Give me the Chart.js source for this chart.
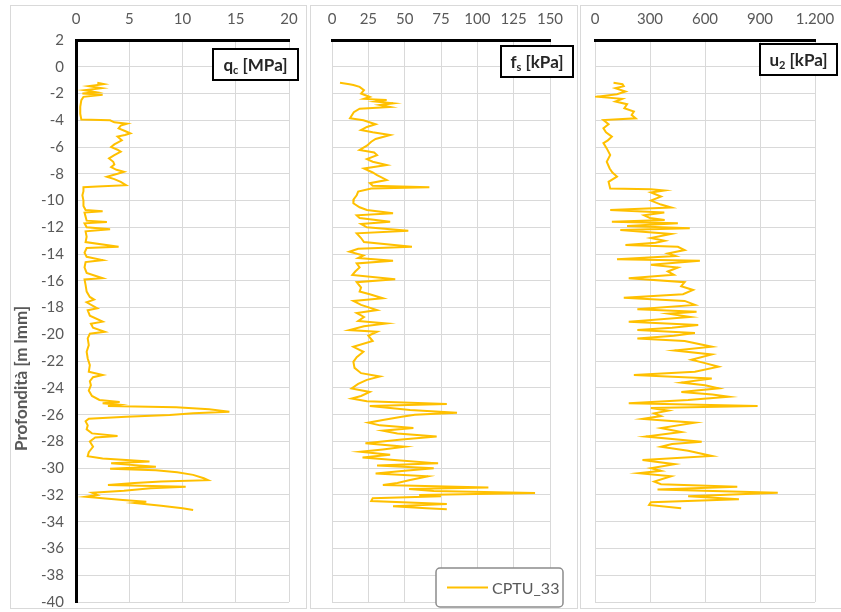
<!DOCTYPE html>
<html>
<head>
<meta charset="utf-8">
<title>CPTU_33</title>
<script src="https://cdn.jsdelivr.net/npm/chart.js@4.4.1/dist/chart.umd.min.js"></script>
<style>
  html, body { margin: 0; padding: 0; background: #ffffff; }
  body { width: 841px; height: 612px; position: relative; overflow: hidden; font-family: Lato, sans-serif; }
  .frame { position: absolute; top: 5px; height: 604px; border: 1px solid #d9d9d9; box-sizing: border-box; }
  canvas { position: absolute; top: 5px; display: block; }
</style>
</head>
<body>
<div class="frame" style="left:10px;width:297px"></div>
<div class="frame" style="left:310px;width:268px"></div>
<div class="frame" style="left:580px;width:265px"></div>
<canvas id="qcChart" width="297" height="606" style="left:10px"></canvas>
<canvas id="fsChart" width="268" height="606" style="left:310px"></canvas>
<canvas id="u2Chart" width="261" height="606" style="left:580px"></canvas>
<script>
// ---- data: CPTU_33 cone penetration log (depth in m relative to mean sea level) ----
const seriesName = 'CPTU_33';
const depthTicks = [2, 0, -2, -4, -6, -8, -10, -12, -14, -16, -18, -20, -22, -24, -26, -28, -30, -32, -34, -36, -38, -40];
const qcTicks = [0, 5, 10, 15, 20];
const fsTicks = [0, 25, 50, 75, 100, 125, 150];
const u2Ticks = [0, 300, 600, 900, 1200];

// cone resistance qc [MPa]
const qcDepth = [-1.2,-1.3,-1.45,-1.6,-1.75,-1.9,-2.0,-2.1,-2.25,-2.5,
  -3.0,-3.5,-3.95,-4.0,-4.15,-4.25,-4.4,-4.6,-4.8,-4.97,
  -5.1,-5.22,-5.5,-5.8,-6.0,-6.2,-6.35,-6.6,-6.85,-7.1,
  -7.3,-7.5,-7.7,-7.85,-8.0,-8.22,-8.4,-8.6,-8.85,-8.95,
  -9.0,-9.3,-9.6,-10.0,-10.4,-10.7,-10.8,-10.9,-11.2,-11.5,
  -11.6,-11.7,-12.0,-12.15,-12.3,-12.7,-13.1,-13.45,-13.55,-13.9,
  -14.2,-14.45,-14.6,-15.0,-15.4,-15.8,-15.9,-16.3,-16.8,-17.2,
  -17.4,-17.6,-18.05,-18.2,-18.6,-19.05,-19.2,-19.5,-19.8,-19.95,
  -20.3,-20.8,-21.3,-21.8,-22.3,-22.8,-23.04,-23.2,-23.5,-23.8,
  -24.2,-24.6,-24.9,-25.05,-25.15,-25.25,-25.35,-25.45,-25.6,-25.78,
  -25.9,-26.03,-26.15,-26.3,-26.5,-26.8,-27.1,-27.4,-27.6,-27.7,
  -28.0,-28.4,-28.8,-29.1,-29.27,-29.5,-29.64,-29.9,-30.05,-30.15,
  -30.3,-30.5,-30.75,-30.9,-31.0,-31.1,-31.26,-31.38,-31.5,-31.68,
  -31.83,-32.0,-32.13,-32.25,-32.38,-32.5,-32.6,-32.8,-33.0,-33.13];
const qcMPa = [2.0,2.6,1.2,2.4,0.8,1.9,0.6,2.5,0.7,0.5,
  0.4,0.4,0.5,3.2,3.6,4.8,4.2,4.0,4.6,5.1,
  4.6,3.9,4.3,3.6,3.3,3.9,4.2,3.6,3.1,3.5,
  3.6,3.3,3.8,4.5,3.9,2.9,3.6,4.2,4.7,2.0,
  0.7,0.7,0.6,0.7,0.7,0.9,2.5,0.8,0.9,1.0,
  2.9,0.8,1.0,3.2,0.9,1.0,0.9,4.0,1.0,0.8,
  1.0,2.5,0.9,0.8,1.0,2.5,0.8,0.9,1.0,1.3,
  1.7,1.0,2.0,1.1,1.3,2.5,1.4,1.6,2.7,1.3,
  1.1,1.2,1.0,1.1,1.3,1.2,2.5,1.6,1.3,1.4,
  1.2,1.5,2.2,4.1,2.5,4.0,3.0,9.4,12.5,14.4,
  11.0,8.8,4.7,1.2,0.9,1.1,1.0,1.5,3.9,1.8,
  1.3,1.6,1.2,1.1,2.5,6.9,3.3,7.5,3.2,7.5,
  9.5,11.0,12.0,12.4,8.0,5.5,3.0,10.3,7.0,4.5,
  1.5,2.0,0.9,2.5,4.4,6.6,5.5,8.0,10.0,11.0];

// sleeve friction fs [kPa]
const fsDepth = [-1.19,-1.3,-1.36,-1.5,-1.75,-2.0,-2.26,-2.4,-2.48,-2.6,
  -2.73,-2.85,-3.0,-3.13,-3.4,-3.85,-4.0,-4.3,-4.5,-4.73,
  -4.9,-5.1,-5.4,-5.6,-5.9,-6.22,-6.4,-6.6,-6.9,-7.1,
  -7.34,-7.6,-7.9,-8.1,-8.46,-8.7,-8.9,-9.01,-9.1,-9.33,
  -9.6,-9.9,-10.2,-10.5,-10.7,-10.95,-11.1,-11.3,-11.58,-11.75,
  -12.0,-12.25,-12.45,-12.8,-13.1,-13.45,-13.6,-13.82,-14.1,-14.3,
  -14.49,-14.7,-15.0,-15.3,-15.56,-15.88,-16.1,-16.5,-16.8,-17.0,
  -17.3,-17.5,-17.8,-18.18,-18.4,-18.7,-19.0,-19.18,-19.4,-19.68,
  -19.8,-20.1,-20.5,-20.93,-21.3,-21.7,-22.05,-22.5,-22.9,-23.15,
  -23.4,-23.7,-24.04,-24.3,-24.6,-24.79,-25.0,-25.2,-25.35,-25.5,
  -25.65,-25.85,-26.0,-26.15,-26.4,-26.6,-26.8,-27.0,-27.2,-27.4,
  -27.64,-27.85,-28.14,-28.4,-28.6,-28.77,-29.0,-29.2,-29.4,-29.64,
  -29.8,-30.0,-30.2,-30.39,-30.6,-30.9,-31.1,-31.26,-31.45,-31.55,
  -31.7,-31.85,-32.0,-32.1,-32.25,-32.45,-32.68,-32.85,-33.0,-33.07];
const fsKPa = [5.5,12,14.7,19,22,20,26,22,37.6,30,
  42,33,40,19,15,12.4,21.6,30,24,20,
  28,40,30,27,24,19,29,31,24,28,
  37.6,22,28,31,37.6,26,28,67,27,18,
  17,15,14.7,19,24,42,17,19,40,20,
  24,52.5,17,20,22,55,18,12,21.6,18,
  42,17,19,16,14,43.5,17,20,19,26,
  35,14.7,20,31,17,22,18,37.6,22,12,
  31,25,28,14.7,21.6,17,14.7,15.5,20,33,
  24,18,13.5,26,20,13.5,24,79,26,40,
  53.7,86,57,48,35,25,33,56,35,45,
  72,48,23,50,35,19.5,40,21,45,73,
  31,70,50,30,66,53,45,35,107.6,53,
  70,139.7,60,75,28,27,79,42,65,79];

// pore pressure u2 [kPa]
const u2Depth = [-1.19,-1.3,-1.45,-1.6,-1.85,-2.05,-2.24,-2.4,-2.6,-2.8,
  -3.1,-3.35,-3.6,-3.85,-3.98,-4.3,-4.6,-4.9,-5.22,-5.5,
  -5.7,-6.1,-6.6,-7.1,-7.6,-7.9,-8.21,-8.6,-9.09,-9.16,
  -9.25,-9.4,-9.7,-10.0,-10.3,-10.51,-10.7,-10.9,-11.1,-11.3,
  -11.45,-11.58,-11.7,-11.9,-12.07,-12.2,-12.5,-12.8,-13.0,-13.15,
  -13.32,-13.45,-13.7,-13.95,-14.15,-14.39,-14.49,-14.8,-15.0,-15.3,
  -15.55,-15.81,-16.1,-16.4,-16.68,-17.0,-17.26,-17.5,-17.8,-18.13,
  -18.3,-18.45,-18.7,-19.05,-19.3,-19.5,-19.67,-19.9,-20.1,-20.3,
  -20.5,-20.92,-21.2,-21.5,-21.9,-22.15,-22.42,-22.8,-23.04,-23.3,
  -23.6,-23.8,-24.03,-24.3,-24.5,-24.66,-24.9,-25.15,-25.35,-25.5,
  -25.7,-25.9,-26.1,-26.32,-26.6,-27.0,-27.3,-27.64,-28.02,-28.2,
  -28.4,-28.7,-29.09,-29.39,-29.7,-30.0,-30.2,-30.38,-30.6,-31.0,
  -31.2,-31.38,-31.6,-31.83,-32.1,-32.33,-32.55,-32.75,-33.0];
const u2KPa = [101,150,157,111,166,120,9,148,111,175,
  160,212,200,222,46,74,46,60,92,70,
  46,64,83,64,80,95,120,74,83,305,
  378,305,360,305,360,415,83,378,268,300,
  380,92,452,175,517,138,415,305,380,330,
  166,452,489,397,440,120,572,305,452,397,
  430,184,489,470,535,480,157,489,545,231,
  554,400,520,184,563,420,231,545,430,231,
  489,637,434,637,526,600,674,545,212,637,
  471,600,674,471,640,729,508,184,887,305,
  400,323,360,259,545,360,471,277,582,420,
  360,508,637,259,434,305,360,240,415,323,
  360,776,341,997,508,785,305,295,470];

// ---- styling ----
const lineColour = '#ffc000';
const gridColour = '#d9d9d9';
const tickColour = '#595959';
const tickFont = { family: 'Lato', size: 15 };

function toPoints(values, depths) {
  return values.map((v, i) => ({ x: v, y: depths[i] }));
}
function itNumber(v) {
  return String(v).replace(/\B(?=(\d{3})+(?!\d))/g, '.');
}

// panel decorations: parameter label box, depth title, legend
const panelDecor = {
  id: 'panelDecor',
  afterDraw(chart, args, opts) {
    const ctx = chart.ctx;
    ctx.save();
    if (opts.depthTitle) {
      ctx.save();
      ctx.translate(opts.depthTitle.x, opts.depthTitle.y);
      ctx.rotate(-Math.PI / 2);
      ctx.font = 'bold 17px Lato';
      ctx.fillStyle = tickColour;
      ctx.textAlign = 'left';
      ctx.textBaseline = 'middle';
      ctx.fillText(opts.depthTitle.text, 0, 0);
      ctx.restore();
    }
    if (opts.box) {
      const b = opts.box;
      ctx.fillStyle = '#ffffff';
      ctx.fillRect(b.x, b.y, b.w, b.h);
      ctx.lineWidth = 2;
      ctx.strokeStyle = '#000000';
      ctx.strokeRect(b.x, b.y, b.w, b.h);
      const mainFont = 'bold 17px Lato';
      const subFont = 'bold 11px Lato';
      let total = 0;
      b.parts.forEach(p => { ctx.font = p.sub ? subFont : mainFont; total += ctx.measureText(p.t).width; });
      let x = b.x + (b.w - total) / 2;
      const cy = b.y + b.h / 2 + 1;
      ctx.fillStyle = '#262626';
      ctx.textBaseline = 'middle';
      ctx.textAlign = 'left';
      b.parts.forEach(p => {
        ctx.font = p.sub ? subFont : mainFont;
        ctx.fillText(p.t, x, p.sub ? cy + 5 : cy);
        x += ctx.measureText(p.t).width;
      });
    }
    if (opts.legend) {
      const l = opts.legend;
      const ds = chart.data.datasets[0];
      ctx.beginPath();
      ctx.roundRect(l.x, l.y, l.w, l.h, 4);
      ctx.fillStyle = '#ffffff';
      ctx.fill();
      ctx.lineWidth = 1.5;
      ctx.strokeStyle = '#8c8c8c';
      ctx.stroke();
      const cy = l.y + l.h / 2;
      ctx.beginPath();
      ctx.moveTo(l.x + 11, cy);
      ctx.lineTo(l.x + 52, cy);
      ctx.lineWidth = 2;
      ctx.strokeStyle = ds.borderColor;
      ctx.stroke();
      ctx.font = '16px Lato';
      ctx.fillStyle = tickColour;
      ctx.textBaseline = 'middle';
      ctx.textAlign = 'left';
      ctx.fillText(ds.label, l.x + 56, cy + 1);
    }
    ctx.restore();
  }
};

function makePanel(id, cfg) {
  return new Chart(document.getElementById(id), {
    type: 'scatter',
    data: {
      datasets: [{
        label: seriesName,
        data: toPoints(cfg.values, cfg.depths),
        showLine: true,
        borderColor: lineColour,
        backgroundColor: lineColour,
        borderWidth: 2,
        pointRadius: 0,
        pointHoverRadius: 0,
        tension: 0,
        fill: false
      }]
    },
    options: {
      responsive: false,
      animation: false,
      events: [],
      layout: { padding: { left: 0, top: 0, right: cfg.padRight, bottom: 9 } },
      scales: {
        x: {
          type: 'linear',
          position: 'top',
          min: cfg.ticks[0],
          max: cfg.ticks[cfg.ticks.length - 1],
          afterBuildTicks: s => { s.ticks = cfg.ticks.map(v => ({ value: v })); },
          afterFit: s => { s.height = 35; s.paddingLeft = 0; s.paddingRight = 0; },
          ticks: { color: tickColour, font: tickFont, padding: 12, maxRotation: 0, autoSkip: false,
                   callback: v => itNumber(v) },
          grid: { color: gridColour, lineWidth: 1, drawTicks: false },
          border: { display: true, color: '#000000', width: 3 }
        },
        y: {
          type: 'linear',
          min: -40,
          max: 2,
          afterBuildTicks: s => { s.ticks = depthTicks.map(v => ({ value: v })); },
          afterFit: s => { s.width = cfg.axisWidth; s.paddingTop = 0; s.paddingBottom = 0; },
          ticks: { display: cfg.depthAxis, color: tickColour, font: tickFont, padding: 12, autoSkip: false },
          grid: { color: gridColour, lineWidth: 1, drawTicks: false },
          border: { display: cfg.depthAxis, color: '#000000', width: 3 }
        }
      },
      plugins: {
        legend: { display: false },
        tooltip: { enabled: false },
        panelDecor: cfg.decor
      }
    },
    plugins: [panelDecor]
  });
}

makePanel('qcChart', {
  values: qcMPa, depths: qcDepth, ticks: qcTicks,
  axisWidth: 66, padRight: 18, depthAxis: true,
  decor: {
    depthTitle: { text: 'Profondità [m lmm]', x: 12, y: 446 },
    box: { x: 203, y: 44, w: 85, h: 31, parts: [{ t: 'q' }, { t: 'c', sub: true }, { t: ' [MPa]' }] }
  }
});

makePanel('fsChart', {
  values: fsKPa, depths: fsDepth, ticks: fsTicks,
  axisWidth: 22, padRight: 28, depthAxis: false,
  decor: {
    box: { x: 191, y: 41, w: 72, h: 31, parts: [{ t: 'f' }, { t: 's', sub: true }, { t: ' [kPa]' }] },
    legend: { x: 126, y: 563, w: 127, h: 39 }
  }
});

makePanel('u2Chart', {
  values: u2KPa, depths: u2Depth, ticks: u2Ticks,
  axisWidth: 15, padRight: 26, depthAxis: false,
  decor: {
    box: { x: 180, y: 39, w: 77, h: 31, parts: [{ t: 'u' }, { t: '2', sub: true }, { t: ' [kPa]' }] }
  }
});
</script>
</body>
</html>
